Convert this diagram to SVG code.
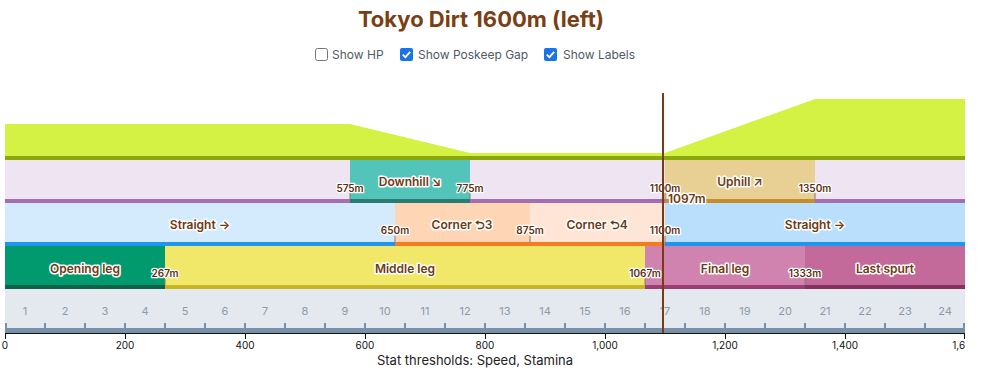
<svg xmlns="http://www.w3.org/2000/svg" width="990" height="381" viewBox="0 0 990 381">
<style>
text{font-family:Inter,"Noto Sans","DejaVu Sans",sans-serif}
.title{font-size:22px;font-weight:700;fill:#7a3f14;text-anchor:middle}
.cb{font-size:12px;fill:#505a64}
.lbl{font-size:12px;font-weight:600;fill:#6e3a12;stroke:#fff;stroke-width:3;stroke-linejoin:round;paint-order:stroke;text-anchor:middle}
.sm{font-size:10px;font-weight:600;fill:#5a3010;stroke:#fff;stroke-width:2.5;stroke-linejoin:round;paint-order:stroke;text-anchor:middle}
.mk{stroke:#8a7a70;stroke-width:1}
.num{font-size:11px;fill:#8d9aab;text-anchor:middle}
.ax{font-size:10px;fill:#111;text-anchor:middle}
.tk{stroke:#7891a8;stroke-width:2}
</style>
<defs>
<clipPath id="plot"><rect x="0" y="0" width="965" height="381"/></clipPath>
</defs>
<rect width="990" height="381" fill="#fff"/>
<text class="title" x="481" y="27">Tokyo Dirt 1600m (left)</text>
<g id="controls">
<rect x="315.5" y="48.5" width="12" height="12" rx="2" fill="#fff" stroke="#767676"/>
<text class="cb" x="332" y="59">Show HP</text>
<rect x="400" y="48" width="13" height="13" rx="2" fill="#1a73e8"/>
<path d="M402.8 54.6l2.6 2.6 4.8-5.4" fill="none" stroke="#fff" stroke-width="1.8"/>
<text class="cb" x="418" y="59">Show Poskeep Gap</text>
<rect x="544" y="48" width="13" height="13" rx="2" fill="#1a73e8"/>
<path d="M546.8 54.6l2.6 2.6 4.8-5.4" fill="none" stroke="#fff" stroke-width="1.8"/>
<text class="cb" x="563" y="59">Show Labels</text>
</g>
<g id="slope-profile">
<polygon points="5,124 350,124 470,153 665,153 815,99 965,99 965,156 5,156" fill="#d4f244"/>
<rect x="5" y="156" width="960" height="4" fill="#8aa80a"/>
</g>
<g id="slopes-row">
<rect x="5" y="160" width="960" height="39" fill="#efe4f1"/>
<rect x="5" y="199" width="960" height="4" fill="#a46eb0"/>
<g id="downhill">
<rect x="350" y="160" width="120" height="39" fill="#52c4b9"/>
<rect x="350" y="199" width="120" height="4" fill="#2b7b73"/>
<line class="mk" x1="350" y1="193" x2="350" y2="199"/>
<line class="mk" x1="470" y1="193" x2="470" y2="199"/>
<text class="lbl" x="410" y="186">Downhill ↘</text>
<text class="sm" x="350" y="192">575m</text>
<text class="sm" x="470" y="192">775m</text>
</g>
<g id="uphill">
<rect x="665" y="160" width="150" height="39" fill="#e8cf94"/>
<rect x="665" y="199" width="150" height="4" fill="#c48e2b"/>
<line class="mk" x1="665" y1="193" x2="665" y2="199"/>
<line class="mk" x1="815" y1="193" x2="815" y2="199"/>
<text class="lbl" x="740" y="186">Uphill ↗</text>
<text class="sm" x="665" y="192">1100m</text>
<text class="sm" x="815" y="192">1350m</text>
</g>
</g>
<g id="corners-row">
<g id="straight-1">
<rect x="5" y="203" width="390" height="39" fill="#d3ebfc"/>
<rect x="5" y="242" width="390" height="4" fill="#1e96f0"/>
<text class="lbl" x="200" y="229">Straight →</text>
</g>
<g id="corner-3">
<rect x="395" y="203" width="135" height="39" fill="#fed6b6"/>
<rect x="395" y="242" width="270" height="4" fill="#f67b1f"/>
<line class="mk" x1="395" y1="236" x2="395" y2="242"/>
<text class="lbl" x="462" y="229">Corner ⮌3</text>
<text class="sm" x="395" y="234">650m</text>
</g>
<g id="corner-4">
<rect x="530" y="203" width="135" height="39" fill="#fee5d6"/>
<line class="mk" x1="530" y1="236" x2="530" y2="242"/>
<text class="lbl" x="597" y="229">Corner ⮌4</text>
<text class="sm" x="530" y="234">875m</text>
</g>
<g id="straight-2">
<rect x="665" y="203" width="300" height="39" fill="#b9dffd"/>
<rect x="665" y="242" width="300" height="4" fill="#1e96f0"/>
<line class="mk" x1="665" y1="236" x2="665" y2="242"/>
<text class="lbl" x="815" y="229">Straight →</text>
<text class="sm" x="665" y="234">1100m</text>
</g>
</g>
<g id="phases-row">
<g id="opening-leg">
<rect x="5" y="246" width="160" height="39" fill="#009a6e"/>
<rect x="5" y="285" width="160" height="4" fill="#0b6245"/>
<text class="lbl" x="85" y="273">Opening leg</text>
</g>
<g id="middle-leg">
<rect x="165" y="246" width="480" height="39" fill="#f1e86a"/>
<rect x="165" y="285" width="480" height="4" fill="#c6b625"/>
<line class="mk" x1="165" y1="279" x2="165" y2="285"/>
<text class="lbl" x="405" y="273">Middle leg</text>
<text class="sm" x="165" y="277">267m</text>
</g>
<g id="final-leg">
<rect x="645" y="246" width="160" height="39" fill="#d083ae"/>
<rect x="645" y="285" width="160" height="4" fill="#9b3f72"/>
<line class="mk" x1="645" y1="279" x2="645" y2="285"/>
<text class="lbl" x="725" y="273">Final leg</text>
<text class="sm" x="645" y="277">1067m</text>
</g>
<g id="last-spurt">
<rect x="805" y="246" width="160" height="39" fill="#c46a9b"/>
<rect x="805" y="285" width="160" height="4" fill="#86325e"/>
<line class="mk" x1="805" y1="279" x2="805" y2="285"/>
<text class="lbl" x="885" y="273">Last spurt</text>
<text class="sm" x="805" y="277">1333m</text>
</g>
</g>
<g id="sections">
<rect x="5" y="289" width="960" height="44" fill="#e3e9ef"/>
<rect x="5" y="328" width="960" height="5" fill="#7891a8"/>
<g class="tk">
<line x1="6" y1="323" x2="6" y2="328"/><line x1="45" y1="323" x2="45" y2="328"/><line x1="85" y1="323" x2="85" y2="328"/><line x1="125" y1="323" x2="125" y2="328"/><line x1="165" y1="323" x2="165" y2="328"/><line x1="205" y1="323" x2="205" y2="328"/><line x1="245" y1="323" x2="245" y2="328"/><line x1="285" y1="323" x2="285" y2="328"/><line x1="325" y1="323" x2="325" y2="328"/><line x1="365" y1="323" x2="365" y2="328"/><line x1="405" y1="323" x2="405" y2="328"/><line x1="445" y1="323" x2="445" y2="328"/><line x1="485" y1="323" x2="485" y2="328"/><line x1="525" y1="323" x2="525" y2="328"/><line x1="565" y1="323" x2="565" y2="328"/><line x1="605" y1="323" x2="605" y2="328"/><line x1="645" y1="323" x2="645" y2="328"/><line x1="685" y1="323" x2="685" y2="328"/><line x1="725" y1="323" x2="725" y2="328"/><line x1="765" y1="323" x2="765" y2="328"/><line x1="805" y1="323" x2="805" y2="328"/><line x1="845" y1="323" x2="845" y2="328"/><line x1="885" y1="323" x2="885" y2="328"/><line x1="925" y1="323" x2="925" y2="328"/><line x1="964" y1="323" x2="964" y2="328"/>
</g>
<text class="num" x="25" y="315">1</text><text class="num" x="65" y="315">2</text><text class="num" x="105" y="315">3</text><text class="num" x="145" y="315">4</text><text class="num" x="185" y="315">5</text><text class="num" x="225" y="315">6</text><text class="num" x="265" y="315">7</text><text class="num" x="305" y="315">8</text><text class="num" x="345" y="315">9</text><text class="num" x="385" y="315">10</text><text class="num" x="425" y="315">11</text><text class="num" x="465" y="315">12</text><text class="num" x="505" y="315">13</text><text class="num" x="545" y="315">14</text><text class="num" x="585" y="315">15</text><text class="num" x="625" y="315">16</text><text class="num" x="665" y="315">17</text><text class="num" x="705" y="315">18</text><text class="num" x="745" y="315">19</text><text class="num" x="785" y="315">20</text><text class="num" x="825" y="315">21</text><text class="num" x="865" y="315">22</text><text class="num" x="905" y="315">23</text><text class="num" x="945" y="315">24</text>
</g>
<g id="axis">
<line x1="5" y1="333.5" x2="965" y2="333.5" stroke="#111" stroke-width="1"/>
<g stroke="#111" stroke-width="1">
<line x1="5.5" y1="333" x2="5.5" y2="339"/><line x1="125.5" y1="333" x2="125.5" y2="339"/><line x1="245.5" y1="333" x2="245.5" y2="339"/><line x1="365.5" y1="333" x2="365.5" y2="339"/><line x1="485.5" y1="333" x2="485.5" y2="339"/><line x1="605.5" y1="333" x2="605.5" y2="339"/><line x1="725.5" y1="333" x2="725.5" y2="339"/><line x1="845.5" y1="333" x2="845.5" y2="339"/><line x1="964.5" y1="333" x2="964.5" y2="339"/>
</g>
<g clip-path="url(#plot)">
<text class="ax" x="5" y="349">0</text><text class="ax" x="125" y="349">200</text><text class="ax" x="245" y="349">400</text><text class="ax" x="365" y="349">600</text><text class="ax" x="485" y="349">800</text><text class="ax" x="605" y="349">1,000</text><text class="ax" x="725" y="349">1,200</text><text class="ax" x="845" y="349">1,400</text><text class="ax" x="965" y="349">1,600</text>
</g>
<text x="475" y="365" font-size="13" fill="#222" text-anchor="middle">Stat thresholds: Speed, Stamina</text>
</g>
<g id="connectors">
<line x1="663" y1="93" x2="663" y2="333" stroke="#7b3a14" stroke-width="2"/>
<text class="lbl" x="668" y="203" style="text-anchor:start">1097m</text>
</g>
</svg>
